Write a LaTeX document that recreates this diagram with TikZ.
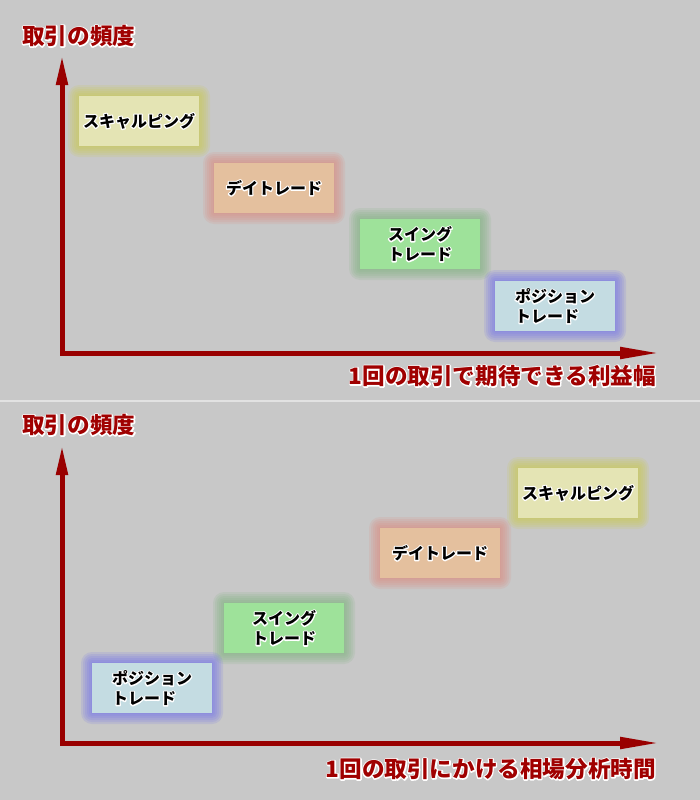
\documentclass[tikz,border=0pt]{standalone}
\usepackage{fontspec}
\setmainfont{Noto Sans CJK JP}
\usetikzlibrary{arrows.meta}
\definecolor{bg}{HTML}{C8C8C8}
\definecolor{axred}{HTML}{990000}
\definecolor{txred}{HTML}{A00000}
\definecolor{sepc}{HTML}{E2E2E2}
\definecolor{scF}{HTML}{E4E4B4}
\definecolor{scG}{HTML}{C8C84E}
\definecolor{dyF}{HTML}{E4C09E}
\definecolor{dyG}{HTML}{DC8A80}
\definecolor{swF}{HTML}{9EE29A}
\definecolor{swG}{HTML}{80B480}
\definecolor{poF}{HTML}{C4DCE2}
\definecolor{poG}{HTML}{7272EC}
\tikzset{
  axis/.style={line width=5pt, draw=axred, line join=miter,
    arrows={Triangle[length=30pt,width=11pt]-Triangle[length=40pt,width=11pt]}},
  titletext/.style={font=\fontsize{22.6}{22.6}\selectfont\bfseries, text=txred, inner sep=0pt},
  boxtext/.style={font=\fontsize{16}{20}\selectfont\bfseries, text=black, align=left, inner sep=0pt},
  sepline/.style={draw=sepc, line width=1.5pt},
}
% text with a white outline: a stroked white copy under the filled text
\newcommand{\outl}[1]{\leavevmode\rlap{\special{pdf:literal direct 1 Tr 2.4 w 1 j 1 1 1 RG}#1\special{pdf:literal direct 0 Tr}}#1}
% glowing box: name, x1, y1, x2, y2, colour prefix
\newcommand{\gbox}[6]{%
  \foreach \r in {11,9,...,1}{%
    \fill[#6G, opacity=0.16, rounded corners=\r pt] (#2-\r,#3-\r) rectangle (#4+\r,#5+\r);}%
  \node[fill=#6F, inner sep=0pt, minimum width=#4pt-#2pt, minimum height=#5pt-#3pt]
    (#1) at ({(#2+#4)/2},{(#3+#5)/2}) {};}
\begin{document}
\begin{tikzpicture}[x=1pt,y=-1pt]
\fill[bg] (0,0) rectangle (700,800);
\useasboundingbox (0,0) rectangle (700,800);

% separator
\coordinate (sl) at (0,401);
\coordinate (sr) at (700,401);
\draw[sepline] (sl) -- (sr);

% ===== top panel =====
\coordinate (ytipA) at (62,55);
\coordinate (origA) at (62,353);
\coordinate (xtipA) at (660,353);
\draw[axis] (ytipA) -- (origA) -- (xtipA);
\node[titletext,anchor=west] (ylabA) at (22,36) {\outl{取引の頻度}};
\node[titletext,anchor=east] (xlabA) at (656,376) {\outl{1回の取引で期待できる利益幅}};

\gbox{scA}{79}{96}{199}{146}{sc}
\gbox{dyA}{214}{163}{334}{213}{dy}
\gbox{swA}{360}{219}{480}{269}{sw}
\gbox{poA}{495}{281}{615}{331}{po}
\node[boxtext] (scAt) at (scA.center) {\outl{スキャルピング}};
\node[boxtext] (dyAt) at (dyA.center) {\outl{デイトレード}};
\node[boxtext] (swAt) at (swA.center) {\outl{スイング}\\\outl{トレード}};
\node[boxtext] (poAt) at (poA.center) {\outl{ポジション}\\\outl{トレード}};

% ===== bottom panel =====
\coordinate (ytipB) at (62,445);
\coordinate (origB) at (62,743);
\coordinate (xtipB) at (660,743);
\draw[axis] (ytipB) -- (origB) -- (xtipB);
\node[titletext,anchor=west] (ylabB) at (22,425) {\outl{取引の頻度}};
\node[titletext,anchor=east] (xlabB) at (656,769) {\outl{1回の取引にかける相場分析時間}};

\gbox{scB}{518}{468}{638}{518}{sc}
\gbox{dyB}{380}{528}{500}{578}{dy}
\gbox{swB}{224}{603}{344}{653}{sw}
\gbox{poB}{92}{663}{212}{713}{po}
\node[boxtext] (scBt) at (scB.center) {\outl{スキャルピング}};
\node[boxtext] (dyBt) at (dyB.center) {\outl{デイトレード}};
\node[boxtext] (swBt) at (swB.center) {\outl{スイング}\\\outl{トレード}};
\node[boxtext] (poBt) at (poB.center) {\outl{ポジション}\\\outl{トレード}};
\end{tikzpicture}
\end{document}
